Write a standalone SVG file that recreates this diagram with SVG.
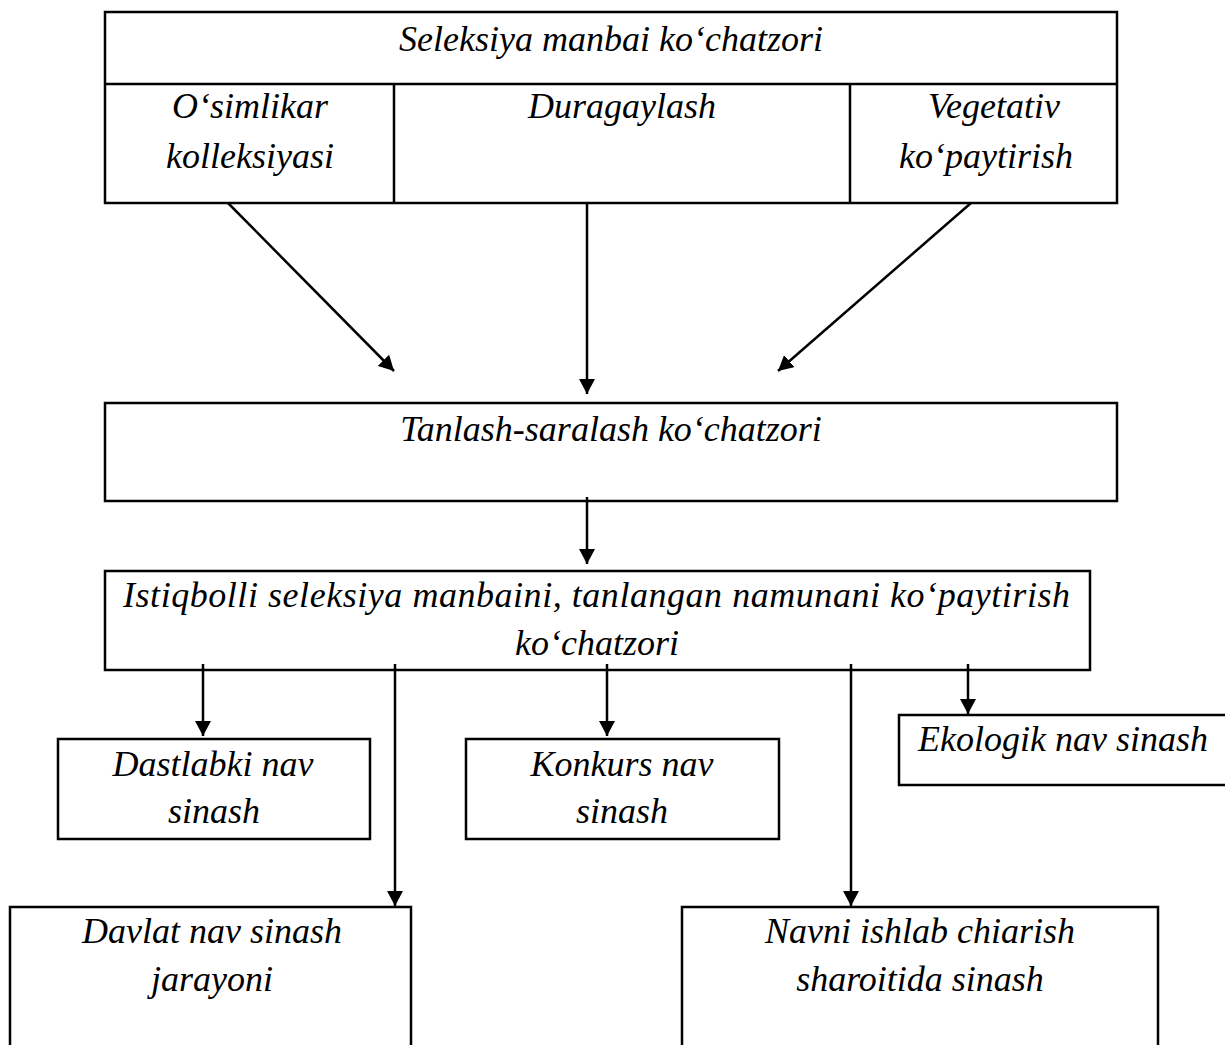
<svg xmlns="http://www.w3.org/2000/svg" width="1225" height="1045" viewBox="0 0 1225 1045">
<style>
.b{fill:none;stroke:#000;stroke-width:2.5}
.t{font-family:"Liberation Serif","Times New Roman",serif;font-style:italic;font-size:36px;fill:#000;text-anchor:middle}
.c{stroke:#000;stroke-width:2.5;fill:none}
</style>
<defs>
<marker id="ah" viewBox="0 0 15 16" refX="15" refY="8" markerWidth="15" markerHeight="16" markerUnits="userSpaceOnUse" orient="auto">
<path d="M0,0 L15,8 L0,16 Z" fill="#000"/>
</marker>
</defs>
<rect width="1225" height="1045" fill="#fff"/>
<g id="top">
<rect class="b" x="105" y="12" width="1012" height="191"/>
<line class="b" x1="105" y1="84" x2="1117" y2="84"/>
<line class="b" x1="394" y1="84" x2="394" y2="203"/>
<line class="b" x1="850" y1="84" x2="850" y2="203"/>
<text class="t" x="611" y="51">Seleksiya manbai ko‘chatzori</text>
</g>
<g id="osimlikar"><text class="t" x="250" y="118">O‘simlikar</text><text class="t" x="250" y="168">kolleksiyasi</text></g>
<g id="duragaylash"><text class="t" x="622" y="118">Duragaylash</text></g>
<g id="vegetativ"><text class="t" x="994" y="118">Vegetativ</text><text class="t" x="986" y="168">ko‘paytirish</text></g>
<g id="tanlash">
<rect class="b" x="105" y="403" width="1012" height="98"/>
<text class="t" x="611" y="441">Tanlash-saralash ko‘chatzori</text>
</g>
<g id="istiqbolli">
<rect class="b" x="105" y="571" width="985" height="99"/>
<text class="t" x="596.5" y="607" textLength="947" lengthAdjust="spacing">Istiqbolli seleksiya manbaini, tanlangan namunani ko‘paytirish</text>
<text class="t" x="597" y="655">ko‘chatzori</text>
</g>
<g id="dastlabki">
<rect class="b" x="58" y="739" width="312" height="100"/>
<text class="t" x="213" y="776">Dastlabki nav</text>
<text class="t" x="214" y="823">sinash</text>
</g>
<g id="konkurs">
<rect class="b" x="466" y="739" width="313" height="100"/>
<text class="t" x="622" y="776">Konkurs nav</text>
<text class="t" x="622" y="823">sinash</text>
</g>
<g id="ekologik">
<rect class="b" x="899" y="715" width="330" height="70"/>
<text class="t" x="1063" y="751">Ekologik nav sinash</text>
</g>
<g id="davlat">
<rect class="b" x="10" y="907" width="401" height="160"/>
<text class="t" x="212" y="943">Davlat nav sinash</text>
<text class="t" x="212" y="991">jarayoni</text>
</g>
<g id="navni">
<rect class="b" x="682" y="907" width="476" height="160"/>
<text class="t" x="920" y="943">Navni ishlab chiarish</text>
<text class="t" x="920" y="991">sharoitida sinash</text>
</g>
<g id="connectors">
<line class="c" x1="228" y1="203" x2="394" y2="371" marker-end="url(#ah)"/>
<line class="c" x1="587" y1="203" x2="587" y2="394" marker-end="url(#ah)"/>
<line class="c" x1="971" y1="203" x2="778" y2="371" marker-end="url(#ah)"/>
<line class="c" x1="587" y1="497" x2="587" y2="564" marker-end="url(#ah)"/>
<line class="c" x1="203" y1="664" x2="203" y2="736" marker-end="url(#ah)"/>
<line class="c" x1="395" y1="664" x2="395" y2="906" marker-end="url(#ah)"/>
<line class="c" x1="607" y1="664" x2="607" y2="736" marker-end="url(#ah)"/>
<line class="c" x1="851" y1="664" x2="851" y2="906" marker-end="url(#ah)"/>
<line class="c" x1="968" y1="664" x2="968" y2="714" marker-end="url(#ah)"/>
</g>
</svg>
